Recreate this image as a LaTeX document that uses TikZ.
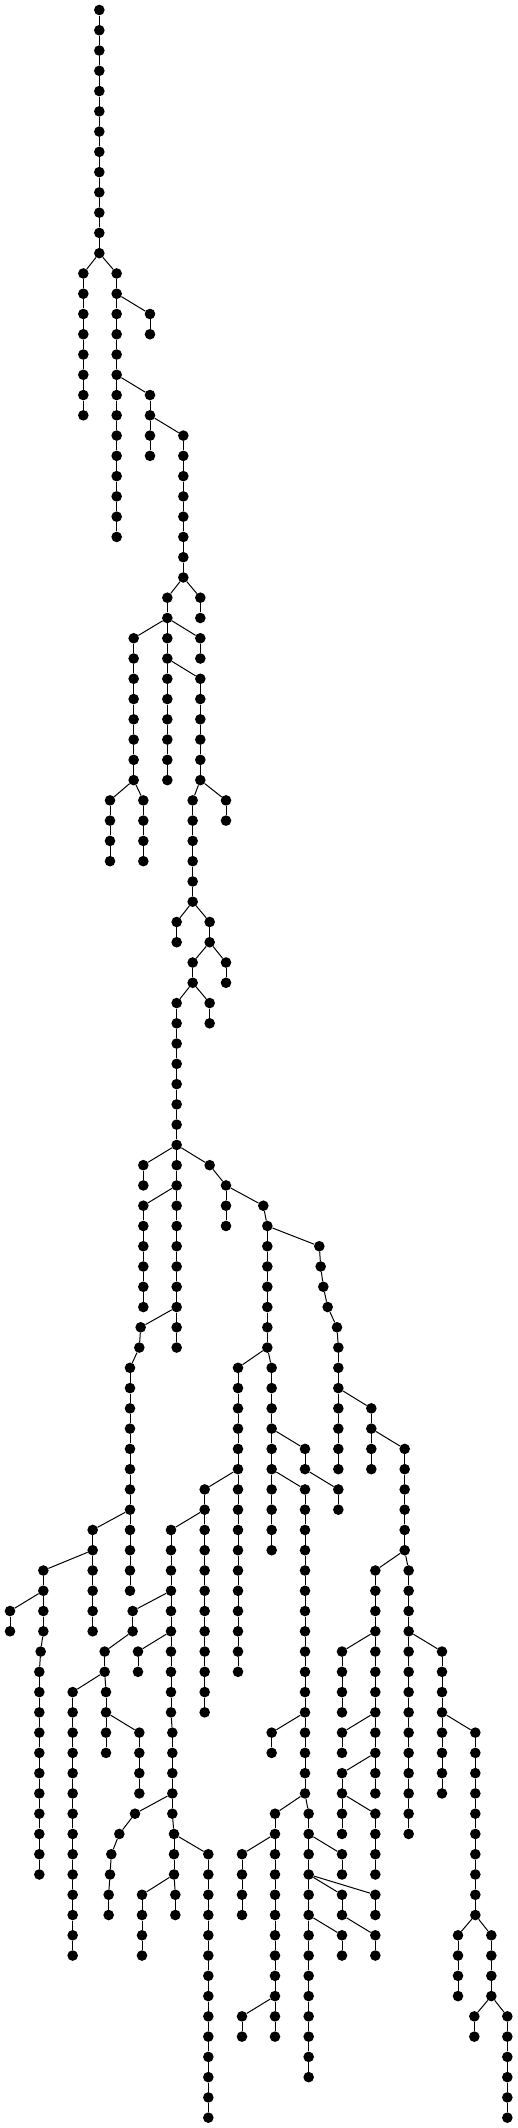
\documentclass[tikz,border=0pt]{standalone}
\tikzset{
  dot/.style={circle,fill=black,draw=none,minimum size=10.6pt,inner sep=0pt},
  edge/.style={draw=black,line width=1pt}
}
\newcommand\ch[5]{%
  \foreach \lv in {#3,...,#4}{\node[dot] (#1-\lv) at (#2,\lv) {};}%
  \if\relax\detokenize{#5}\relax\else\draw[edge] (#5) -- (#1-#3);\fi
  \foreach \lv [evaluate=\lv as \pv using {int(\lv-1)}] in {#3,...,#4}{\ifnum\lv>#3\relax\draw[edge] (#1-\pv) -- (#1-\lv);\fi}%
}
\begin{document}
\begin{tikzpicture}[x=1pt,y=-20.266pt]
\useasboundingbox (0pt,10pt) rectangle (518pt,-2118pt);
\ch{A}{99.33}{0}{12}{}
\ch{B}{83.33}{13}{20}{A-12}
\ch{C}{116.67}{13}{26}{A-12}
\ch{D}{150}{15}{16}{C-14}
\ch{E}{150}{19}{22}{C-18}
\ch{F}{183.33}{21}{28}{E-20}
\ch{G}{167.33}{29}{38}{F-28}
\ch{H}{200.33}{29}{30}{F-28}
\ch{I}{133.67}{31}{38}{G-30}
\ch{J}{200.33}{31}{32}{G-30}
\ch{K}{200.33}{33}{38}{G-32}
\ch{L}{110}{39}{42}{I-38}
\ch{M}{143.33}{39}{42}{I-38}
\ch{N}{192.67}{39}{44}{K-38}
\ch{O}{226}{39}{40}{K-38}
\ch{P}{176.67}{45}{46}{N-44}
\ch{Q}{209.67}{45}{46}{N-44}
\ch{R}{192.67}{47}{48}{Q-46}
\ch{S}{226}{47}{48}{Q-46}
\ch{T}{176.67}{49}{66}{R-48}
\ch{U}{209.67}{49}{50}{R-48}
\ch{V}{143.33}{57}{58}{T-56}
\ch{W}{209.67}{57}{57}{T-56}
\ch{X}{226}{58}{60}{W-57}
\ch{Y}{263.33}{59}{59}{X-58}
\ch{Z}{267.33}{60}{66}{Y-59}
\ch{ZB}{238}{67}{82}{Z-66}
\ch{ZC}{271.67}{67}{76}{Z-66}
\ch{AA}{143.33}{59}{64}{T-58}
\ch{AB}{140.67}{65}{65}{T-64}
\ch{AC}{139.33}{66}{66}{AB-65}
\ch{AD}{130}{67}{78}{AC-66}
\ch{AE}{319.33}{61}{61}{Z-60}
\ch{AF}{320.67}{62}{62}{AE-61}
\ch{AG}{323.33}{63}{63}{AF-62}
\ch{AH}{327.67}{64}{64}{AG-63}
\ch{AI}{337}{65}{65}{AH-64}
\ch{AJ}{338.33}{66}{72}{AI-65}
\ch{AK}{371.33}{69}{72}{AJ-68}
\ch{AL}{404.67}{71}{76}{AK-70}
\ch{AM}{375.33}{77}{88}{AL-76}
\ch{AN}{408.67}{77}{90}{AL-76}
\ch{AO}{92.67}{75}{80}{AD-74}
\ch{AP}{43.33}{77}{80}{AO-76}
\ch{AQ}{10}{79}{80}{AP-78}
\ch{AR}{40.67}{81}{81}{AP-80}
\ch{AS}{39.33}{82}{92}{AR-81}
\ch{AT}{204.67}{73}{84}{ZB-72}
\ch{AU}{171}{75}{84}{AT-74}
\ch{AV}{172.33}{85}{89}{AU-84}
\ch{AW}{174}{90}{92}{AV-89}
\ch{AX}{175.33}{93}{94}{AW-92}
\ch{AY}{132.67}{79}{80}{AU-78}
\ch{AZ}{104.67}{81}{82}{AY-80}
\ch{BA}{106}{83}{86}{AZ-82}
\ch{BB}{72.67}{83}{96}{AZ-82}
\ch{BC}{139.33}{85}{88}{BA-84}
\ch{BD}{138}{81}{82}{AU-80}
\ch{BE}{305}{71}{72}{ZC-70}
\ch{BF}{338.33}{73}{74}{BE-72}
\ch{BG}{305}{73}{88}{ZC-72}
\ch{BH}{271.67}{85}{86}{BG-84}
\ch{BI}{308.67}{89}{102}{BG-88}
\ch{BJ}{275}{89}{100}{BG-88}
\ch{BK}{242}{91}{94}{BJ-90}
\ch{BL}{242}{99}{100}{BJ-98}
\ch{BM}{342}{91}{92}{BI-90}
\ch{BN}{342}{93}{94}{BI-92}
\ch{BO}{375.33}{93}{94}{BI-92}
\ch{BP}{342}{95}{96}{BI-94}
\ch{BQ}{375.33}{95}{96}{BN-94}
\ch{BR}{135}{89}{89}{AV-88}
\ch{BS}{119.33}{90}{90}{BR-89}
\ch{BT}{111.33}{91}{91}{BS-90}
\ch{BU}{110}{92}{92}{BT-91}
\ch{BV}{108.67}{93}{94}{BU-92}
\ch{BW}{208.33}{91}{104}{AW-90}
\ch{BX}{142}{93}{96}{AW-92}
\ch{BY}{342}{81}{84}{AM-80}
\ch{BZ}{342}{85}{86}{AM-84}
\ch{CA}{342}{87}{90}{AM-86}
\ch{CB}{375.33}{89}{92}{CA-88}
\ch{CC}{442}{81}{88}{AN-80}
\ch{CD}{475.33}{85}{94}{CC-84}
\ch{CE}{458}{95}{98}{CD-94}
\ch{CF}{491.33}{95}{98}{CD-94}
\ch{CG}{474.33}{99}{100}{CF-98}
\ch{CH}{507.33}{99}{104}{CF-98}
\end{tikzpicture}
\end{document}
